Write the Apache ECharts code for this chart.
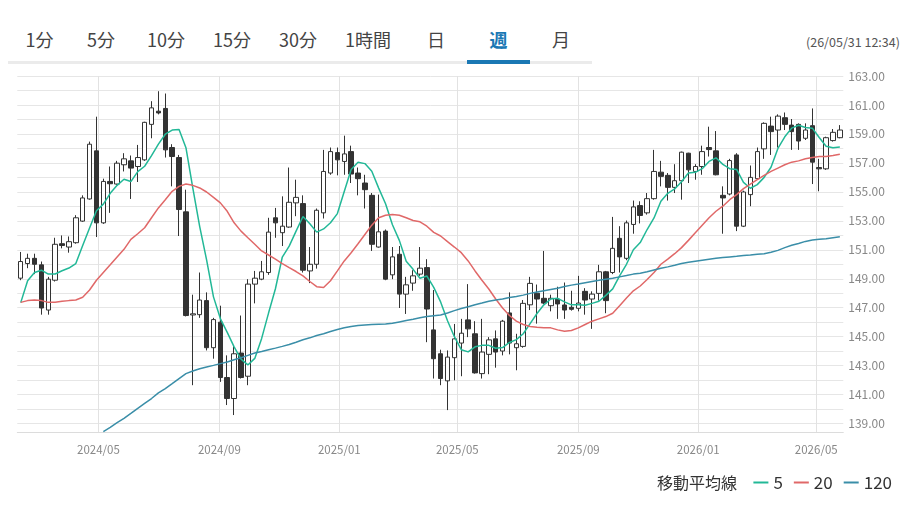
<!DOCTYPE html>
<html><head><meta charset="utf-8">
<script src="https://cdn.jsdelivr.net/npm/echarts@6/dist/echarts.min.js"></script>
<style>
html,body{margin:0;padding:0;background:#fff;width:913px;height:507px;overflow:hidden;font-family:"Noto Sans CJK JP","Noto Sans",sans-serif;}
.tab{position:absolute;top:27px;font-size:18px;color:#444;transform:translateX(-50%);line-height:24px;white-space:nowrap;}
.tab.active{color:#1a78b4;font-weight:bold;}
#baseline{position:absolute;left:8px;top:61px;width:584px;height:3px;background:#ebebeb;}
#activebar{position:absolute;left:467px;top:60px;width:63px;height:4px;background:#1a78b4;}
#stamp{position:absolute;left:806px;top:32px;font-size:12.5px;color:#555;white-space:nowrap;}
#chart{position:absolute;left:0;top:70px;width:913px;height:437px;}
</style></head>
<body>
<div id="tabs"></div>
<div id="baseline"></div>
<div id="activebar"></div>
<div id="stamp">(26/05/31 12:34)</div>
<div id="chart"></div>
<script>
const tabLabels = ['1分','5分','10分','15分','30分','1時間','日','週','月'];
const tabCenters = [39.5,101,166,232,298,368,436,498.5,561];
const activeTab = '週';

const weekDates = [
'2024-02-12','2024-02-19','2024-02-26','2024-03-04','2024-03-11','2024-03-18','2024-03-25','2024-04-01','2024-04-08','2024-04-15',
'2024-04-22','2024-04-29','2024-05-06','2024-05-13','2024-05-20','2024-05-27','2024-06-03','2024-06-10','2024-06-17','2024-06-24',
'2024-07-01','2024-07-08','2024-07-15','2024-07-22','2024-07-29','2024-08-05','2024-08-12','2024-08-19','2024-08-26','2024-09-02',
'2024-09-09','2024-09-16','2024-09-23','2024-09-30','2024-10-07','2024-10-14','2024-10-21','2024-10-28','2024-11-04','2024-11-11',
'2024-11-18','2024-11-25','2024-12-02','2024-12-09','2024-12-16','2024-12-23','2024-12-30','2025-01-06','2025-01-13','2025-01-20',
'2025-01-27','2025-02-03','2025-02-10','2025-02-17','2025-02-24','2025-03-03','2025-03-10','2025-03-17','2025-03-24','2025-03-31',
'2025-04-07','2025-04-14','2025-04-21','2025-04-28','2025-05-05','2025-05-12','2025-05-19','2025-05-26','2025-06-02','2025-06-09',
'2025-06-16','2025-06-23','2025-06-30','2025-07-07','2025-07-14','2025-07-21','2025-07-28','2025-08-04','2025-08-11','2025-08-18',
'2025-08-25','2025-09-01','2025-09-08','2025-09-15','2025-09-22','2025-09-29','2025-10-06','2025-10-13','2025-10-20','2025-10-27',
'2025-11-03','2025-11-10','2025-11-17','2025-11-24','2025-12-01','2025-12-08','2025-12-15','2025-12-22','2025-12-29','2026-01-05',
'2026-01-12','2026-01-19','2026-01-26','2026-02-02','2026-02-09','2026-02-16','2026-02-23','2026-03-02','2026-03-09','2026-03-16',
'2026-03-23','2026-03-30','2026-04-06','2026-04-13','2026-04-20','2026-04-27','2026-05-04','2026-05-11','2026-05-18','2026-05-25'
];

const opens = [
149.04,150.05,150.41,149.96,146.84,148.90,151.42,151.19,151.49,152.98,
154.51,157.83,152.86,155.72,155.54,156.87,157.14,156.75,157.21,159.66,
160.57,160.76,158.06,157.37,153.62,146.50,146.52,147.49,144.24,146.00,
142.18,140.73,143.87,142.27,148.63,148.97,149.43,153.21,152.18,152.57,
154.24,154.19,149.54,150.00,153.55,156.30,157.71,157.10,157.78,156.30,
155.61,154.76,151.19,152.29,149.27,150.69,147.94,148.70,149.32,149.77,
145.47,143.82,141.95,143.55,144.56,146.16,145.20,142.45,143.78,144.85,
144.01,146.64,144.24,144.33,147.20,148.00,147.65,147.14,147.60,147.19,
147.03,146.96,148.13,147.60,147.99,149.48,149.43,151.79,150.41,152.75,
154.05,153.55,154.53,156.36,156.14,155.31,155.77,157.67,156.41,156.75,
158.06,157.83,154.76,154.85,157.55,152.63,154.81,155.91,157.97,159.54,
159.27,160.12,159.61,159.66,158.70,159.57,156.68,156.59,158.54,158.74
];
const closes = [
150.19,150.41,150.00,146.98,148.97,151.38,151.30,151.56,153.21,154.58,
158.29,152.86,155.72,155.56,156.98,157.28,156.64,157.37,159.80,160.80,
160.45,157.90,157.44,153.78,146.46,146.58,147.53,144.24,146.18,142.18,
140.73,143.82,142.18,148.63,149.04,149.48,152.22,152.86,152.63,154.28,
154.62,149.59,150.00,153.73,156.41,157.78,157.21,157.62,156.23,155.91,
155.15,151.38,152.24,148.97,150.51,147.94,148.58,149.20,149.73,146.91,
143.48,142.11,143.59,144.85,145.24,145.54,142.50,143.94,144.78,143.94,
146.07,144.56,144.51,147.30,148.68,147.60,147.32,147.65,147.26,146.84,
146.89,147.32,147.53,147.94,149.48,147.49,151.10,150.51,152.86,153.96,
153.37,154.53,156.41,156.07,155.31,155.77,157.74,156.52,156.75,157.78,
157.92,156.18,154.58,157.16,152.63,154.99,156.00,157.78,159.73,159.16,
160.23,159.66,159.16,158.51,159.27,157.05,156.59,158.74,159.11,159.27
];
const lows = [
148.90,149.73,149.32,146.52,146.52,148.81,151.10,150.80,151.42,152.93,
154.46,151.88,152.79,153.55,155.49,156.41,154.51,155.68,157.14,158.70,
160.35,157.37,155.38,151.95,146.40,141.65,146.30,144.05,143.48,141.88,
140.28,139.59,142.11,141.65,147.30,148.90,149.27,151.83,151.26,152.52,
153.32,149.43,148.70,149.70,153.16,156.18,156.14,156.18,155.61,154.76,
153.85,150.92,151.15,148.90,148.97,146.98,146.57,148.17,149.20,144.62,
142.11,141.65,139.93,141.99,142.27,144.97,142.45,142.11,142.41,142.86,
143.71,143.78,142.68,144.24,146.84,145.90,147.25,146.75,146.23,146.23,
146.80,146.75,146.52,145.54,147.49,146.62,149.32,149.43,150.28,152.11,
152.82,153.43,154.46,155.38,154.40,154.92,154.46,155.61,155.84,156.18,
157.44,156.14,152.11,154.76,152.29,152.57,154.01,155.84,157.28,157.55,
158.06,159.27,157.90,157.90,158.58,155.54,155.04,156.52,158.47,158.70
];
const highs = [
150.85,150.73,150.73,150.19,149.13,151.83,151.99,151.92,153.39,154.76,
158.47,160.19,155.91,156.75,157.14,157.67,157.51,158.24,159.84,161.26,
161.95,161.79,158.29,157.55,155.15,147.90,149.43,148.06,146.30,147.14,
143.71,144.40,146.46,148.97,149.54,150.23,153.21,153.89,154.69,156.68,
155.84,154.76,151.19,153.85,157.90,158.06,158.06,158.88,158.19,156.68,
156.18,154.92,154.81,152.40,151.19,151.26,149.13,149.59,151.19,150.35,
148.22,144.10,144.05,145.88,146.23,148.63,146.07,146.23,144.97,145.43,
146.16,148.06,145.20,147.53,149.13,148.60,150.92,147.90,148.45,148.74,
148.17,149.20,148.35,148.13,149.96,149.54,153.27,152.63,153.02,154.40,
154.35,154.92,157.90,157.14,156.30,156.91,157.78,157.70,156.91,158.19,
159.50,159.20,155.38,157.28,157.67,155.08,156.82,158.06,159.80,160.19,
160.35,160.48,160.03,159.73,159.73,160.76,157.28,158.81,159.34,159.61
];

const ma5 = [
147.35,148.86,149.43,149.59,149.32,149.33,149.55,149.74,150.05,151.30,
152.50,153.70,154.15,154.90,155.45,155.87,155.71,156.40,156.77,157.50,
158.30,158.98,159.27,159.30,158.05,155.25,152.60,150.30,147.75,146.25,
145.30,144.30,143.45,143.05,143.50,144.88,146.63,148.31,150.50,151.25,
152.29,153.30,152.80,152.22,152.44,152.87,153.50,155.03,156.55,157.05,
156.95,156.42,155.26,154.18,152.73,151.65,150.21,149.65,149.04,149.19,
148.40,147.40,146.10,145.00,144.10,143.95,144.30,144.40,144.40,144.20,
144.25,144.60,144.80,145.20,145.90,146.60,147.20,147.60,147.65,147.40,
147.20,147.20,147.17,147.30,147.45,147.85,148.30,149.20,150.00,151.00,
151.50,152.40,153.20,154.35,154.90,155.20,155.70,156.30,156.35,156.60,
157.10,157.35,156.90,156.60,156.55,155.65,155.25,155.50,156.00,156.70,
158.00,158.80,159.40,159.60,159.45,159.40,158.75,158.15,158.05,158.10
];
const ma20 = [
147.37,147.49,147.53,147.49,147.37,147.37,147.44,147.49,147.53,147.72,
148.22,148.90,149.43,149.96,150.50,151.03,151.72,152.11,152.52,153.21,
153.89,154.46,155.04,155.38,155.54,155.45,155.27,154.99,154.62,154.24,
153.66,152.86,152.29,151.83,151.38,150.92,150.64,150.35,150.05,149.77,
149.50,149.20,148.81,148.45,148.40,148.86,149.54,150.23,150.80,151.42,
152.06,152.70,153.21,153.39,153.43,153.39,153.21,153.02,152.93,152.63,
152.20,151.95,151.56,151.19,150.80,150.23,149.54,148.90,148.29,147.60,
146.98,146.46,146.07,145.84,145.70,145.65,145.61,145.61,145.47,145.38,
145.43,145.61,145.84,146.07,146.23,146.39,146.62,147.14,147.67,148.17,
148.50,148.95,149.43,150.00,150.35,150.73,151.15,151.65,152.18,152.70,
153.21,153.66,154.01,154.46,154.81,155.22,155.54,155.84,156.14,156.41,
156.64,156.87,157.05,157.14,157.28,157.37,157.44,157.44,157.51,157.60
];
const ma120 = [
null,null,null,null,null,null,null,null,null,null,
null,null,138.45,138.74,139.06,139.36,139.70,140.05,140.39,140.73,
141.12,141.42,141.76,142.11,142.45,142.63,142.79,142.91,143.02,143.14,
143.25,143.41,143.55,143.71,143.87,143.98,144.10,144.21,144.33,144.46,
144.62,144.79,144.92,145.08,145.20,145.36,145.49,145.61,145.70,145.77,
145.81,145.84,145.86,145.88,145.93,146.02,146.11,146.20,146.30,146.39,
146.45,146.50,146.64,146.80,146.94,147.07,147.21,147.32,147.44,147.53,
147.60,147.71,147.78,147.87,147.99,148.08,148.17,148.26,148.35,148.47,
148.56,148.63,148.72,148.81,148.90,148.97,149.04,149.13,149.22,149.32,
149.38,149.48,149.61,149.73,149.82,149.93,150.05,150.14,150.21,150.28,
150.35,150.41,150.46,150.51,150.55,150.60,150.64,150.69,150.73,150.83,
150.96,151.15,151.31,151.44,151.58,151.67,151.72,151.76,151.83,151.90
];

const maNames = ['5','20','120'];
const maColors = ['#22b897','#e06868','#3a8ea8'];
const monthTicks = ['2024-05-01','2024-09-01','2025-01-01','2025-05-01','2025-09-01','2026-01-01','2026-05-01'];
const priceLabels = [139,141,143,145,147,149,151,153,155,157,159,161,163];
const priceGrid = [139,140,141,142,143,144,145,146,147,148,149,150,151,152,153,154,155,156,157,158,159,160,161,162,163];
const legendTitle = '移動平均線';

// header tabs
const tabsEl = document.getElementById('tabs');
tabLabels.forEach((t, i) => {
  const s = document.createElement('span');
  s.className = 'tab' + (t === activeTab ? ' active' : '');
  s.style.left = tabCenters[i] + 'px';
  s.textContent = t;
  tabsEl.appendChild(s);
});

function ts(s) { const p = s.split('-'); return Date.UTC(+p[0], +p[1] - 1, +p[2]); }
const DAY = 86400000;
const xMin = ts(weekDates[0]) - 3.5 * DAY;
const xMax = ts(weekDates[weekDates.length - 1]) + 3.5 * DAY;
const FONT = '"Noto Sans CJK JP","Noto Sans",sans-serif';

const chart = echarts.init(document.getElementById('chart'), null, { renderer: 'canvas' });
const maSets = [ma5, ma20, ma120];
const option = {
  animation: false,
  textStyle: { fontFamily: FONT },
  grid: { left: 17.3, right: 69.7, top: 3.8, bottom: 74.3 },
  xAxis: {
    type: 'value', min: xMin, max: xMax, scale: true,
    axisLine: { show: true, lineStyle: { color: '#dcdcdc' } },
    axisTick: { show: false, customValues: monthTicks.map(ts) },
    axisLabel: {
      customValues: monthTicks.map(ts),
      formatter: function (v) { const d = new Date(v); return d.getUTCFullYear() + '/' + String(d.getUTCMonth() + 1).padStart(2, '0'); },
      color: '#888', fontSize: 11.5, margin: 11, fontFamily: FONT
    },
    splitLine: { show: true, lineStyle: { color: '#e2e2e2', width: 1 } }
  },
  yAxis: {
    type: 'value', position: 'right', min: 138.37, max: 163,
    axisLine: { show: false },
    axisTick: { show: false, customValues: priceGrid },
    axisLabel: { customValues: priceLabels, formatter: function (v) { return v.toFixed(2); }, color: '#888', fontSize: 12, margin: 5, fontFamily: FONT },
    splitLine: { show: true, lineStyle: { color: '#e6e6e6', width: 1 } }
  },
  legend: {
    data: maNames, right: 21, top: 404, itemWidth: 15, itemHeight: 2, itemGap: 11, icon: 'rect',
    padding: 0, selectedMode: false,
    textStyle: { fontSize: 17, color: '#333', fontFamily: FONT }
  },
  graphic: [{
    type: 'text', x: 657, y: 413.3,
    style: { text: legendTitle, fontSize: 16, fill: '#333', verticalAlign: 'middle', fontFamily: FONT }
  }],
  series: [{
    type: 'candlestick', name: 'price',
    data: weekDates.map((d, i) => [ts(d), opens[i], closes[i], lows[i], highs[i]]),
    encode: { x: 0, y: [1, 2, 3, 4] },
    barWidth: 5,
    itemStyle: { color: '#ffffff', color0: '#333333', borderColor: '#333333', borderColor0: '#333333', borderWidth: 1 },
    z: 2
  }].concat(maNames.map((n, k) => ({
    type: 'line', name: n,
    data: weekDates.map((d, i) => [ts(d), maSets[k][i]]),
    symbol: 'none', showSymbol: false,
    lineStyle: { width: 1.5, color: maColors[k] },
    itemStyle: { color: maColors[k] },
    z: 3
  })))
};
chart.setOption(option);
</script>
</body></html>
